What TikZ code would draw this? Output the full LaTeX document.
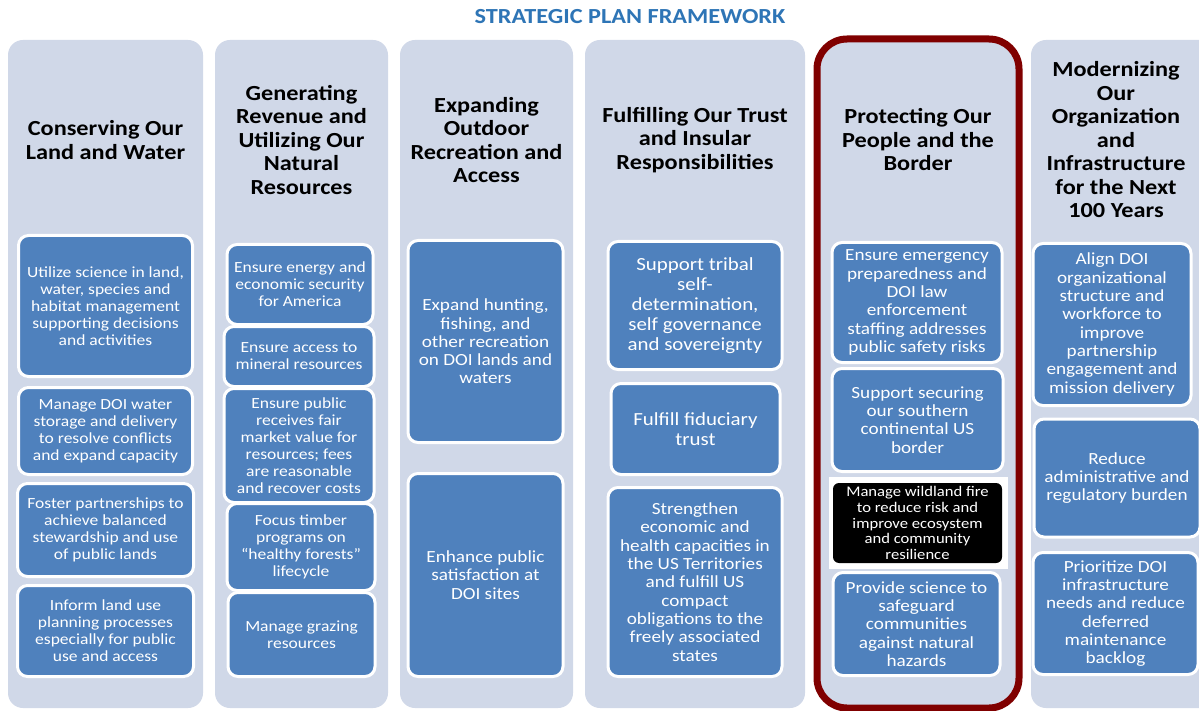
\documentclass[tikz,border=0pt]{standalone}
\usepackage{fontspec}
\setmainfont[FakeStretch=1.13]{Carlito}
\definecolor{pillarbg}{RGB}{208,216,232}
\definecolor{goalblue}{RGB}{79,129,189}
\definecolor{titleblue}{RGB}{46,117,182}
\definecolor{focusred}{RGB}{128,0,0}
\tikzset{
  dims/.style 2 args={minimum width=#1pt, minimum height=#2pt},
  pillar/.style={fill=pillarbg, rounded corners=15pt, inner sep=0pt},
  focus/.style={pillar, draw=focusred, line width=7pt, rounded corners=30pt},
  pillarhead/.style={font=\bfseries\fontsize{21.5}{23.5}\selectfont, align=center, inner sep=0pt},
  goal/.style={fill=goalblue, draw=white, line width=3pt, rounded corners=10pt, text=white, align=center, inner sep=2pt, font=\fontsize{17}{18.3}\selectfont},
  densegoal/.style={goal, font=\fontsize{15.5}{17}\selectfont},
  biggoal/.style={goal, font=\fontsize{18.5}{20}\selectfont},
}

\begin{document}
\begin{tikzpicture}[x=1pt, y=-1pt]
  \useasboundingbox[fill=white] (0,0) rectangle (1199,711);
  \clip (0,0) rectangle (1199,711);

  \node[font=\bfseries\fontsize{21.5}{23}\selectfont, text=titleblue] (title) at (630,17) {STRATEGIC PLAN FRAMEWORK};

  \node[pillar, dims={195}{668}] (conserve) at (105.5,374) {};
  \node[pillar, dims={173}{668}] (revenue) at (301.5,374) {};
  \node[pillar, dims={173}{668}] (recreation) at (486.5,374) {};
  \node[pillar, dims={220}{668}] (trust) at (695,374) {};
  \node[focus, dims={202}{669}] (protect) at (918,373.5) {};
  \node[pillar, dims={184}{668}] (modernize) at (1123,374) {};

  \node[pillarhead] (conservehead) at (105.5,140) {Conserving Our\\Land and Water};
  \node[pillarhead] (revenuehead) at (301.5,140) {Generating\\Revenue and\\Utilizing Our\\Natural\\Resources};
  \node[pillarhead] (recreationhead) at (486.5,140) {Expanding\\Outdoor\\Recreation and\\Access};
  \node[pillarhead] (trusthead) at (695,140) {Fulfilling Our Trust\\and Insular\\Responsibilities};
  \node[pillarhead] (protecthead) at (918,140) {Protecting Our\\People and the\\Border};
  \node[pillarhead] (modernizehead) at (1116,140) {Modernizing\\Our\\Organization\\and\\Infrastructure\\for the Next\\100 Years};

  \node[densegoal, dims={174}{141}] (science) at (105.5,306) {Utilize science in land,\\water, species and\\habitat management\\supporting decisions\\and activities};
  \node[densegoal, dims={174}{87}] (water) at (105.5,431) {Manage DOI water\\storage and delivery\\to resolve conflicts\\and expand capacity};
  \node[densegoal, dims={176}{93}] (partner) at (105.5,530) {Foster partnerships to\\achieve balanced\\stewardship and use\\of public lands};
  \node[densegoal, dims={176}{91}] (landuse) at (105.5,631) {Inform land use\\planning processes\\especially for public\\use and access};

  \node[densegoal, dims={146}{80}] (energy) at (300,284.5) {Ensure energy and\\economic security\\for America};
  \node[densegoal, dims={150}{60}] (mineral) at (299,356.5) {Ensure access to\\mineral resources};
  \node[densegoal, dims={150}{114}] (fairvalue) at (299,445.5) {Ensure public\\receives fair\\market value for\\resources; fees\\are reasonable\\and recover costs};
  \node[densegoal, dims={148}{87}] (timber) at (301,547) {Focus timber\\programs on\\“healthy forests”\\lifecycle};
  \node[densegoal, dims={147}{84}] (grazing) at (301.5,634.5) {Manage grazing\\resources};

  \node[goal, dims={155}{202}] (hunting) at (485.5,341.5) {Expand hunting,\\fishing, and\\other recreation\\on DOI lands and\\waters};
  \node[goal, dims={155}{203}] (satisfaction) at (485.5,575) {Enhance public\\satisfaction at\\DOI sites};

  \node[biggoal, dims={174}{128}] (tribal) at (695,305.5) {Support tribal\\self-\\determination,\\self governance\\and sovereignty};
  \node[biggoal, dims={169}{91}] (fiduciary) at (695.5,429) {Fulfill fiduciary\\trust};
  \node[goal, dims={174}{189}] (insular) at (695,582) {Strengthen\\economic and\\health capacities in\\the US Territories\\and fulfill US\\compact\\obligations to the\\freely associated\\states};

  \node[goal, dims={170}{120}] (emergency) at (917,302.5) {Ensure emergency\\preparedness and\\DOI law\\enforcement\\staffing addresses\\public safety risks};
  \node[goal, dims={171}{103}] (border) at (917.5,420) {Support securing\\our southern\\continental US\\border};
  \node[fill=white, dims={179}{92}, inner sep=0pt] (firebg) at (918.5,523) {};
  \node[goal, draw=none, fill=black, rounded corners=6pt, dims={169}{80}, font=\fontsize{14.7}{15.8}\selectfont, inner sep=0pt] (wildfire) at (917.5,523) {Manage wildland fire\\to reduce risk and\\improve ecosystem\\and community\\resilience};
  \node[goal, dims={167}{103}] (hazards) at (916.5,624) {Provide science to\\safeguard\\communities\\against natural\\hazards};

  \node[goal, dims={158}{162}] (align) at (1112,324.5) {Align DOI\\organizational\\structure and\\workforce to\\improve\\partnership\\engagement and\\mission delivery};
  \node[goal, dims={166}{118}] (burden) at (1117,478) {Reduce\\administrative and\\regulatory burden};
  \node[goal, dims={165}{122}] (infra) at (1115.5,613.5) {Prioritize DOI\\infrastructure\\needs and reduce\\deferred\\maintenance\\backlog};
\end{tikzpicture}
\end{document}
